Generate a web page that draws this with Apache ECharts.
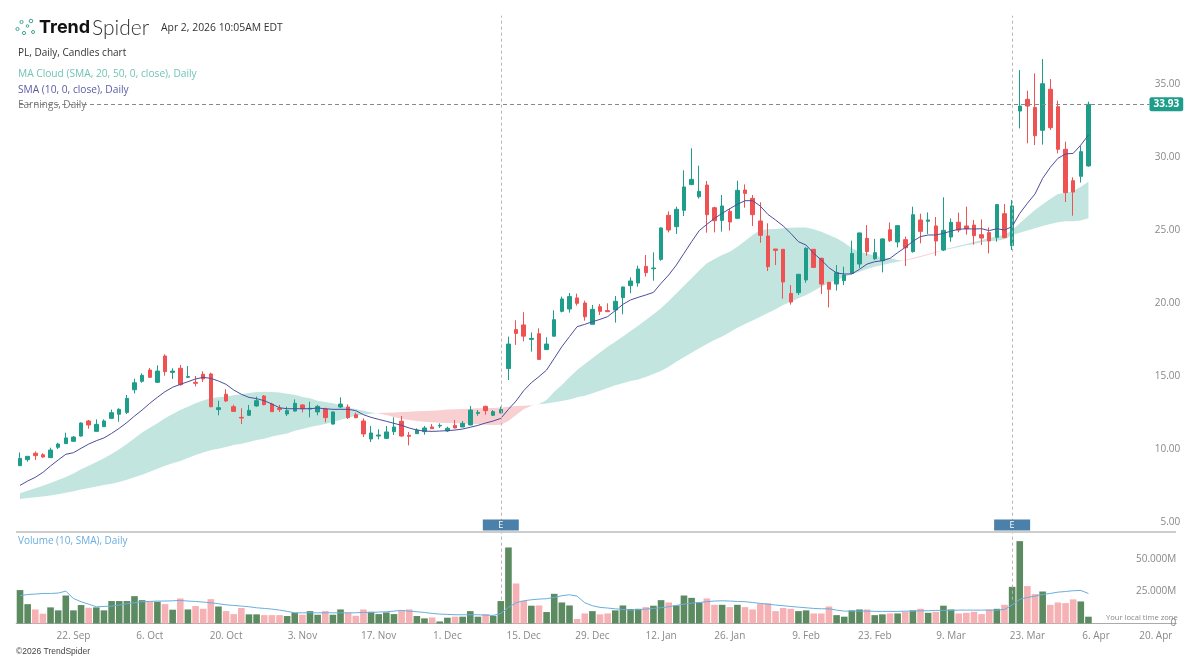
<!DOCTYPE html>
<html><head><meta charset="utf-8">
<style>html,body{margin:0;padding:0;background:#fff}#c{width:1200px;height:660px}</style>
<script src="https://cdn.jsdelivr.net/npm/echarts@6/dist/echarts.min.js"></script>
</head><body><div id="c"></div>
<script>
const categories = ["11. Sep","12. Sep","15. Sep","16. Sep","17. Sep","18. Sep","19. Sep","22. Sep","23. Sep","24. Sep","25. Sep","26. Sep","29. Sep","30. Sep",
"1. Oct","2. Oct","3. Oct","6. Oct","7. Oct","8. Oct","9. Oct","10. Oct","13. Oct","14. Oct","15. Oct","16. Oct","17. Oct","20. Oct","21. Oct","22. Oct","23. Oct","24. Oct","27. Oct","28. Oct","29. Oct","30. Oct","31. Oct",
"3. Nov","4. Nov","5. Nov","6. Nov","7. Nov","10. Nov","11. Nov","12. Nov","13. Nov","14. Nov","17. Nov","18. Nov","19. Nov","20. Nov","21. Nov","24. Nov","25. Nov","26. Nov","28. Nov",
"1. Dec","2. Dec","3. Dec","4. Dec","5. Dec","8. Dec","9. Dec","10. Dec","11. Dec","12. Dec","15. Dec","16. Dec","17. Dec","18. Dec","19. Dec","22. Dec","23. Dec","24. Dec","26. Dec","29. Dec","30. Dec","31. Dec",
"2. Jan","5. Jan","6. Jan","7. Jan","8. Jan","9. Jan","12. Jan","13. Jan","14. Jan","15. Jan","16. Jan","20. Jan","21. Jan","22. Jan","23. Jan","26. Jan","27. Jan","28. Jan","29. Jan","30. Jan",
"2. Feb","3. Feb","4. Feb","5. Feb","6. Feb","9. Feb","10. Feb","11. Feb","12. Feb","13. Feb","17. Feb","18. Feb","19. Feb","20. Feb","23. Feb","24. Feb","25. Feb","26. Feb","27. Feb",
"2. Mar","3. Mar","4. Mar","5. Mar","6. Mar","9. Mar","10. Mar","11. Mar","12. Mar","13. Mar","16. Mar","17. Mar","18. Mar","19. Mar","20. Mar","23. Mar","24. Mar","25. Mar","26. Mar","27. Mar","30. Mar","31. Mar",
"1. Apr","2. Apr","6. Apr","7. Apr","8. Apr","9. Apr","10. Apr","13. Apr","14. Apr","15. Apr","16. Apr","17. Apr","20. Apr"];
const tickLabels = ["22. Sep","6. Oct","20. Oct","3. Nov","17. Nov","1. Dec","15. Dec","29. Dec","12. Jan","26. Jan","9. Feb","23. Feb","9. Mar","23. Mar","6. Apr","20. Apr"];
const earningsDates = ["10. Dec","19. Mar"];
const lastPrice = 33.93;
const opens = [9.18,9.59,10.03,9.93,9.73,10.44,10.69,10.85,11.21,12.24,
11.53,11.85,12.42,12.70,12.83,14.38,14.96,15.73,14.89,16.69,
15.57,15.85,15.23,14.89,15.44,15.46,13.02,14.07,13.22,12.49,
12.63,13.27,13.95,13.40,13.11,12.72,12.92,13.34,13.06,12.86,
13.06,12.03,13.20,13.20,12.67,12.24,11.01,11.21,11.05,11.51,
12.22,11.26,11.37,11.51,11.83,11.90,11.56,11.94,11.83,11.97,
12.76,13.24,12.63,12.79,15.83,18.50,18.82,17.83,18.22,17.13,
18.05,19.75,19.91,20.67,20.32,18.86,20.07,19.80,19.84,20.69,
21.51,21.69,22.83,22.67,23.31,26.33,25.55,26.67,28.43,27.60,
28.40,26.85,25.98,26.60,26.12,28.06,27.49,25.94,24.91,24.02,
24.00,20.98,21.03,21.90,24.00,23.38,21.74,21.62,21.85,22.35,
22.99,24.75,23.36,23.22,25.34,24.50,24.66,23.84,26.01,25.92,
25.60,23.95,24.84,25.85,25.60,25.66,25.00,25.14,24.82,26.44,
24.25,33.47,34.27,33.72,32.15,34.96,33.77,30.85,28.70,29.00,29.71];
const closes = [9.68,9.82,9.87,9.77,10.25,10.66,11.08,11.14,12.10,11.97,
12.01,12.24,12.81,13.04,13.79,14.86,15.37,15.23,15.66,15.62,
15.66,14.73,15.28,14.82,15.12,13.22,13.15,13.61,12.90,12.44,
12.97,13.63,13.36,12.88,13.02,12.95,13.45,13.08,13.11,13.24,
12.47,12.86,13.40,12.47,12.47,11.35,11.42,11.28,11.49,11.83,
11.21,11.19,11.62,11.76,11.71,11.94,11.74,11.76,12.08,12.99,
12.83,12.95,12.88,13.02,17.51,18.24,18.05,17.90,16.46,17.51,
19.18,20.60,20.76,20.30,19.38,19.89,19.75,19.73,20.44,21.42,
21.83,22.65,22.40,22.72,25.46,25.32,26.74,28.27,28.79,27.97,
26.37,25.96,26.97,25.87,28.04,27.83,26.37,24.96,22.81,23.93,
21.76,20.39,22.29,24.07,22.76,21.62,21.26,22.40,22.24,23.72,
25.12,23.84,23.77,24.71,24.59,25.62,24.11,26.37,25.23,26.01,
24.57,25.30,25.85,25.32,25.39,24.93,24.77,24.57,27.06,24.80,
26.97,33.81,33.81,31.78,35.34,32.33,30.85,27.88,27.92,30.69,33.93];
const lows = [9.16,9.45,9.57,9.73,9.73,10.32,10.69,10.82,11.17,11.71,
11.51,11.83,12.40,12.19,12.72,14.13,14.86,15.21,14.84,15.34,
15.12,14.66,15.21,14.61,14.91,13.18,12.63,13.55,12.86,12.03,
12.58,13.22,13.31,12.86,12.86,12.58,12.88,12.83,12.49,12.63,
12.15,11.99,13.11,12.38,12.42,11.14,10.80,10.98,11.01,11.28,
11.17,10.57,11.35,11.30,11.69,11.76,11.49,11.74,11.81,11.94,
12.60,12.67,12.60,12.76,15.05,17.45,17.70,16.99,16.42,17.10,
18.02,19.68,19.66,20.14,19.11,18.86,19.50,19.71,18.98,19.55,
20.99,21.44,22.13,21.85,23.22,25.16,25.05,26.28,28.40,27.47,
25.14,25.16,25.21,25.28,26.10,26.85,25.60,24.45,22.51,22.92,
20.62,20.21,20.87,21.71,22.74,20.94,20.02,21.17,21.55,22.31,
22.70,23.56,23.27,22.42,24.50,24.13,22.86,23.77,24.41,25.05,
23.56,23.88,24.52,25.16,25.00,24.32,24.29,23.72,24.52,24.75,
23.95,32.28,31.26,31.14,31.17,32.17,30.57,27.24,26.30,28.57,29.66];
const highs = [10.09,9.84,10.16,10.03,10.41,10.75,11.44,11.21,12.15,12.31,
12.35,12.35,13.02,13.11,14.02,15.14,15.50,15.87,16.05,16.81,
15.85,16.07,16.01,15.32,15.64,15.55,13.63,14.41,13.36,13.11,
13.34,13.91,14.02,13.49,13.34,13.22,13.72,13.38,13.56,13.34,
13.15,12.88,13.86,13.38,12.81,12.42,11.90,11.67,11.90,12.49,
12.58,11.49,11.74,11.90,12.03,12.08,11.85,12.31,12.24,13.27,
12.99,13.29,12.99,13.22,18.02,19.14,19.69,18.31,18.59,17.97,
19.82,20.76,21.01,20.96,20.48,20.19,20.25,20.30,20.80,21.44,
22.08,22.88,23.61,23.79,25.50,26.60,26.92,29.41,30.92,29.73,
28.68,26.92,27.72,26.81,28.70,28.45,27.72,27.22,25.78,24.02,
24.02,21.55,22.31,24.13,24.02,23.43,21.76,22.92,22.81,24.59,
25.14,25.66,24.71,24.75,25.84,25.64,24.87,26.92,26.44,26.53,
26.21,27.56,26.12,26.51,26.92,26.01,26.05,25.50,27.08,27.10,
27.38,36.28,34.86,36.05,37.03,35.66,34.18,31.37,28.93,31.07,34.11];
const sma10 = [7.83,8.13,8.38,8.72,9.16,9.57,9.96,10.07,10.37,10.66,
10.89,11.08,11.39,11.74,12.13,12.58,12.99,13.45,13.86,14.25,
14.55,14.75,14.93,15.12,15.23,15.16,14.98,14.75,14.36,14.07,
13.86,13.77,13.63,13.40,13.15,13.08,13.08,13.08,13.08,13.13,
13.08,13.04,13.04,13.04,12.95,12.67,12.49,12.35,12.22,12.08,
11.94,11.76,11.62,11.55,11.53,11.55,11.58,11.62,11.69,11.81,
11.94,12.10,12.24,12.42,13.04,13.61,14.32,14.86,15.28,15.73,
16.53,17.33,18.02,18.70,18.86,19.04,19.20,19.39,19.80,20.23,
20.53,20.71,20.87,21.05,21.67,22.24,22.92,23.72,24.52,25.28,
25.71,26.12,26.46,26.78,27.08,27.33,27.33,26.96,26.39,26.01,
25.60,25.09,24.52,24.29,23.72,23.27,22.74,22.38,22.31,22.31,
22.63,22.99,23.15,23.22,23.38,23.77,24.13,24.55,24.87,24.98,
24.98,25.09,25.25,25.37,25.41,25.39,25.41,25.28,25.41,25.32,
25.55,26.46,27.15,27.79,28.86,29.61,30.23,30.53,30.57,31.14,31.83];
const sma20 = [7.29,7.47,7.63,7.81,7.99,8.20,8.40,8.65,8.93,9.18,
9.43,9.68,9.98,10.30,10.66,11.05,11.46,11.78,12.08,12.42,
12.72,12.99,13.22,13.45,13.65,13.79,13.86,13.91,14.00,14.07,
14.16,14.23,14.25,14.23,14.20,14.11,14.04,13.88,13.79,13.63,
13.54,13.45,13.31,13.15,13.06,12.95,12.83,12.76,12.65,12.51,
12.40,12.31,12.24,12.19,12.15,12.12,12.10,12.08,12.06,12.03,
12.03,11.99,11.97,11.99,12.24,12.65,13.04,13.29,13.40,13.68,
14.25,14.71,15.23,15.73,16.14,16.53,16.94,17.33,17.67,18.02,
18.40,18.77,19.16,19.55,19.96,20.46,20.98,21.51,22.01,22.54,
23.04,23.34,23.61,23.84,24.18,24.57,24.98,25.32,25.37,25.39,
25.44,25.48,25.50,25.50,25.37,25.21,24.98,24.75,24.45,24.07,
23.84,23.72,23.56,23.45,23.38,23.27,23.22,23.33,23.47,23.61,
23.77,24.00,24.11,24.25,24.36,24.50,24.64,24.77,24.89,24.98,
25.32,25.78,26.24,26.69,27.08,27.44,27.79,27.88,27.97,28.29,28.63];
const sma50 = [6.90,6.97,7.01,7.06,7.13,7.22,7.33,7.42,7.54,7.65,
7.76,7.86,7.95,8.06,8.22,8.38,8.56,8.77,8.97,9.18,
9.34,9.50,9.70,9.91,10.09,10.23,10.34,10.46,10.60,10.69,
10.80,10.94,11.03,11.17,11.28,11.39,11.58,11.69,11.83,11.94,
12.03,12.17,12.33,12.47,12.60,12.67,12.74,12.79,12.81,12.83,
12.86,12.88,12.90,12.92,12.95,12.97,13.02,13.04,13.06,13.08,
13.11,13.13,13.13,13.15,13.22,13.27,13.29,13.31,13.38,13.43,
13.52,13.61,13.72,13.86,13.97,14.14,14.32,14.50,14.68,14.82,
14.98,15.09,15.25,15.46,15.66,15.96,16.30,16.60,16.92,17.22,
17.51,17.79,18.02,18.31,18.63,18.88,19.13,19.38,19.63,19.89,
20.19,20.41,20.64,20.87,21.14,21.44,21.67,21.90,22.08,22.29,
22.47,22.65,22.81,22.92,23.04,23.15,23.27,23.40,23.54,23.68,
23.84,23.95,24.04,24.16,24.27,24.36,24.48,24.57,24.59,24.68,
24.98,25.14,25.28,25.44,25.60,25.73,25.85,25.92,25.92,25.98,26.12];
const volumeM = [25.8,14.9,10.8,7.5,12.4,10.1,21.6,10.1,14.2,12.1,
12.4,10.1,17.3,17.3,17.3,21.1,18.0,16.8,16.8,14.9,
10.6,19.3,10.8,13.4,11.3,18.8,13.1,9.5,7.2,11.9,
7.0,7.0,6.4,6.4,6.4,5.7,8.2,6.7,9.5,6.7,
9.5,6.7,10.8,8.2,5.9,10.8,9.0,7.2,8.5,7.2,
9.8,10.8,5.7,3.9,4.6,1.5,4.4,5.2,5.2,9.5,
5.2,7.2,5.9,17.3,58.8,30.9,17.5,13.7,13.9,8.8,
22.9,16.2,13.9,3.4,7.7,9.5,7.0,7.7,10.1,13.9,
11.1,11.3,12.6,13.7,18.0,16.2,13.9,21.6,19.8,16.2,
19.3,14.4,14.4,12.6,14.4,12.6,10.8,15.2,15.5,9.5,
11.9,11.3,9.5,10.1,7.7,7.7,13.1,6.4,5.2,10.1,
10.8,10.8,6.4,7.0,7.7,7.7,9.0,10.1,11.3,8.2,
9.0,13.7,10.8,7.7,8.2,9.0,7.2,10.8,11.3,14.4,
28.3,63.7,28.9,22.7,24.7,14.4,16.2,15.7,18.6,17.0,5.2];
const volumeSma = [21.4,22.4,22.7,23.2,23.2,23.5,25.0,19.3,16.8,14.9,
12.9,13.1,13.4,14.2,15.2,16.0,16.8,17.0,17.3,17.3,
17.5,17.8,17.3,17.0,16.5,16.0,15.2,14.4,13.9,13.4,
12.9,12.1,11.6,11.1,10.3,9.3,8.2,8.2,8.2,8.2,
8.2,8.2,8.2,8.2,8.2,8.5,8.5,8.8,9.0,9.5,
10.1,9.5,9.0,8.5,7.7,7.2,7.0,6.7,6.7,6.7,
6.7,6.4,6.2,7.7,12.4,16.0,17.5,18.3,18.8,19.1,
20.1,21.4,22.2,21.1,16.0,13.7,12.4,11.9,11.3,10.8,
10.3,10.6,11.1,11.6,12.1,12.9,13.9,14.9,15.7,16.2,
16.8,17.3,17.5,17.3,17.0,16.8,16.2,15.5,14.9,14.2,
13.7,13.1,12.6,12.1,11.6,11.3,11.3,10.3,9.5,9.5,
9.5,9.5,9.3,9.3,9.3,9.3,9.5,9.5,9.8,9.8,
10.1,10.1,10.1,10.3,10.3,10.3,10.3,10.3,10.3,10.8,
14.2,18.6,20.1,21.1,22.4,23.2,24.2,24.7,25.3,25.5,23.2];

const GREEN='#1f9d8b', RED='#ee5253', VGREEN='#5c8a61', VPINK='#f6b1b4';
const FONT='"Open Sans", sans-serif';

// contiguous regions where the SMA 20 stays on one side of the SMA 50
const regions=[];
sma20.forEach((v,i)=>{
  const up=v>=sma50[i];
  const last=regions[regions.length-1];
  if(last&&last.up===up) last.to=i; else regions.push({from:i,to:i,up});
});
const diff=i=>sma20[i]-sma50[i];

function renderCloud(params,api){
  const r=regions[params.dataIndex];
  const a=i=>api.coord([i,sma20[i]]), b=i=>api.coord([i,sma50[i]]);
  const cross=i=>{const t=diff(i)/(diff(i)-diff(i+1));const p=a(i),q=a(i+1);return [p[0]+(q[0]-p[0])*t,p[1]+(q[1]-p[1])*t];};
  const pts=[];
  if(r.from>0) pts.push(cross(r.from-1));
  for(let i=r.from;i<=r.to;i++) pts.push(a(i));
  if(r.to<sma20.length-1) pts.push(cross(r.to));
  for(let i=r.to;i>=r.from;i--) pts.push(b(i));
  return {type:'polygon',shape:{points:pts},style:{fill:r.up?'#c3e5e0':'#f9d0d2'},silent:true};
}

const candleData=opens.map((o,i)=>[o,closes[i],lows[i],highs[i]]);
const volData=volumeM.map((v,i)=>({value:v,itemStyle:{color:closes[i]>=opens[i]?VGREEN:VPINK}}));

const txt=(x,y,text,fill,size,extra)=>({type:'text',x,y,silent:true,z:20,style:Object.assign({text,fill,font:`${size}px ${FONT}`,textVerticalAlign:'middle'},extra||{})});
const dot=(x,y,r)=>({type:'circle',shape:{cx:x,cy:y,r},silent:true,z:20,style:{fill:'none',stroke:'#3fa79a',lineWidth:1}});

const chart=echarts.init(document.getElementById('c'),null,{renderer:'canvas'});
chart.setOption({
  animation:false,
  backgroundColor:'#fff',
  grid:[
    {left:16.2,width:1160,top:15.7,height:584},
    {left:16.2,width:1160,top:533,height:90.4}
  ],
  xAxis:[
    {type:'category',gridIndex:0,data:categories,show:false,boundaryGap:true},
    {type:'category',gridIndex:1,data:categories,boundaryGap:true,
     axisLine:{lineStyle:{color:'#aaaaaa',width:1}},
     axisTick:{alignWithLabel:true,length:6,lineStyle:{color:'#999999'},interval:(i,v)=>tickLabels.includes(v)},
     axisLabel:{interval:(i,v)=>tickLabels.includes(v),color:'#888',fontFamily:FONT,fontSize:10,margin:8,hideOverlap:false,alignMaxLabel:'right'},
     splitLine:{show:false}}
  ],
  yAxis:[
    {type:'value',gridIndex:0,position:'right',min:0,max:40,interval:5,splitLine:{show:false},axisLine:{show:false},axisTick:{show:false},
     axisLabel:{inside:true,margin:-4,color:'#888',fontFamily:FONT,fontSize:10,verticalAlign:'bottom',
       formatter:v=>(v>=5&&v<=35)?v.toFixed(2):''}},
    {type:'value',gridIndex:1,position:'right',min:0,max:70,interval:25,splitLine:{show:false},axisLine:{show:false},axisTick:{show:false},
     axisLabel:{inside:true,margin:0,color:'#888',fontFamily:FONT,fontSize:10,
       formatter:v=>v===0?'0':(v===25||v===50)?v.toFixed(3)+'M':''}}
  ],
  series:[
    {name:'MA Cloud',type:'custom',xAxisIndex:0,yAxisIndex:0,z:1,silent:true,clip:false,data:regions.map(r=>[r.from,r.to]),renderItem:renderCloud},
    {name:'PL',type:'candlestick',xAxisIndex:0,yAxisIndex:0,z:3,barWidth:4,data:candleData,silent:true,
     itemStyle:{color:GREEN,color0:RED,borderColor:GREEN,borderColor0:RED,borderWidth:1},
     markLine:{silent:true,symbol:'none',animation:false,label:{show:false},
       lineStyle:{color:'#b5b5b5',type:[3,3],width:1},
       data:[
         {xAxis:earningsDates[0]},
         {xAxis:earningsDates[1]},
         [{xAxis:categories[0],yAxis:lastPrice,lineStyle:{color:'#888',type:[4,3],width:1},
           label:{show:true,position:'end',distance:0,formatter:lastPrice.toFixed(2),backgroundColor:GREEN,color:'#fff',fontFamily:FONT,fontWeight:'bold',fontSize:10,padding:[2,4],borderRadius:2}},
          {xAxis:categories[148],yAxis:lastPrice}]
       ]},
     markPoint:{silent:true,animation:false,symbol:'rect',symbolSize:[36,11],
       itemStyle:{color:'#4a80aa'},
       label:{show:true,formatter:'E',color:'#fff',fontFamily:FONT,fontSize:9},
       data:earningsDates.map(d=>({coord:[d,5.12]}))}
    },
    {name:'SMA 10',type:'line',xAxisIndex:0,yAxisIndex:0,z:4,data:sma10,symbol:'none',silent:true,lineStyle:{color:'#4d4d9e',width:1}},
    {name:'Volume',type:'bar',xAxisIndex:1,yAxisIndex:1,z:2,barWidth:6.6,data:volData,silent:true},
    {name:'Volume SMA',type:'line',xAxisIndex:1,yAxisIndex:1,z:4,data:volumeSma,symbol:'none',silent:true,lineStyle:{color:'#6aaedd',width:1}}
  ],
  graphic:[
    {type:'rect',shape:{x:16,y:531,width:1160,height:2},silent:true,z:10,style:{fill:'#cccccc'}},
    dot(17.5,29,1.6),dot(21.5,22,1.6),dot(24,33,1.6),dot(27.5,26,1.3),dot(31,21,1.8),dot(33,32,1.5),
    txt(39,28,'Trend','#111',18,{font:'bold 18px Inter, sans-serif'}),
    txt(92,28,'Spider','#333',21,{font:'300 21px Lato, sans-serif'}),
    txt(161,28,'Apr 2, 2026 10:05AM EDT','#333',10.4),
    txt(18,53.5,'PL, Daily, Candles chart','#333',10),
    txt(18,74,'MA Cloud (SMA, 20, 50, 0, close), Daily','#71c4b6',10.2),
    txt(18,90,'SMA (10, 0, close), Daily','#5b5ba8',10.2),
    txt(18,105.5,'Earnings, Daily','#777',10),
    txt(18,541,'Volume (10, SMA), Daily','#6aaedd',10),
    txt(16,652,'©2026 TrendSpider','#444',8.5,{font:'8.5px "Liberation Sans", sans-serif'}),
    txt(1106,618,'Your local time zone','#888',7.6)
  ]
});
</script></body></html>
